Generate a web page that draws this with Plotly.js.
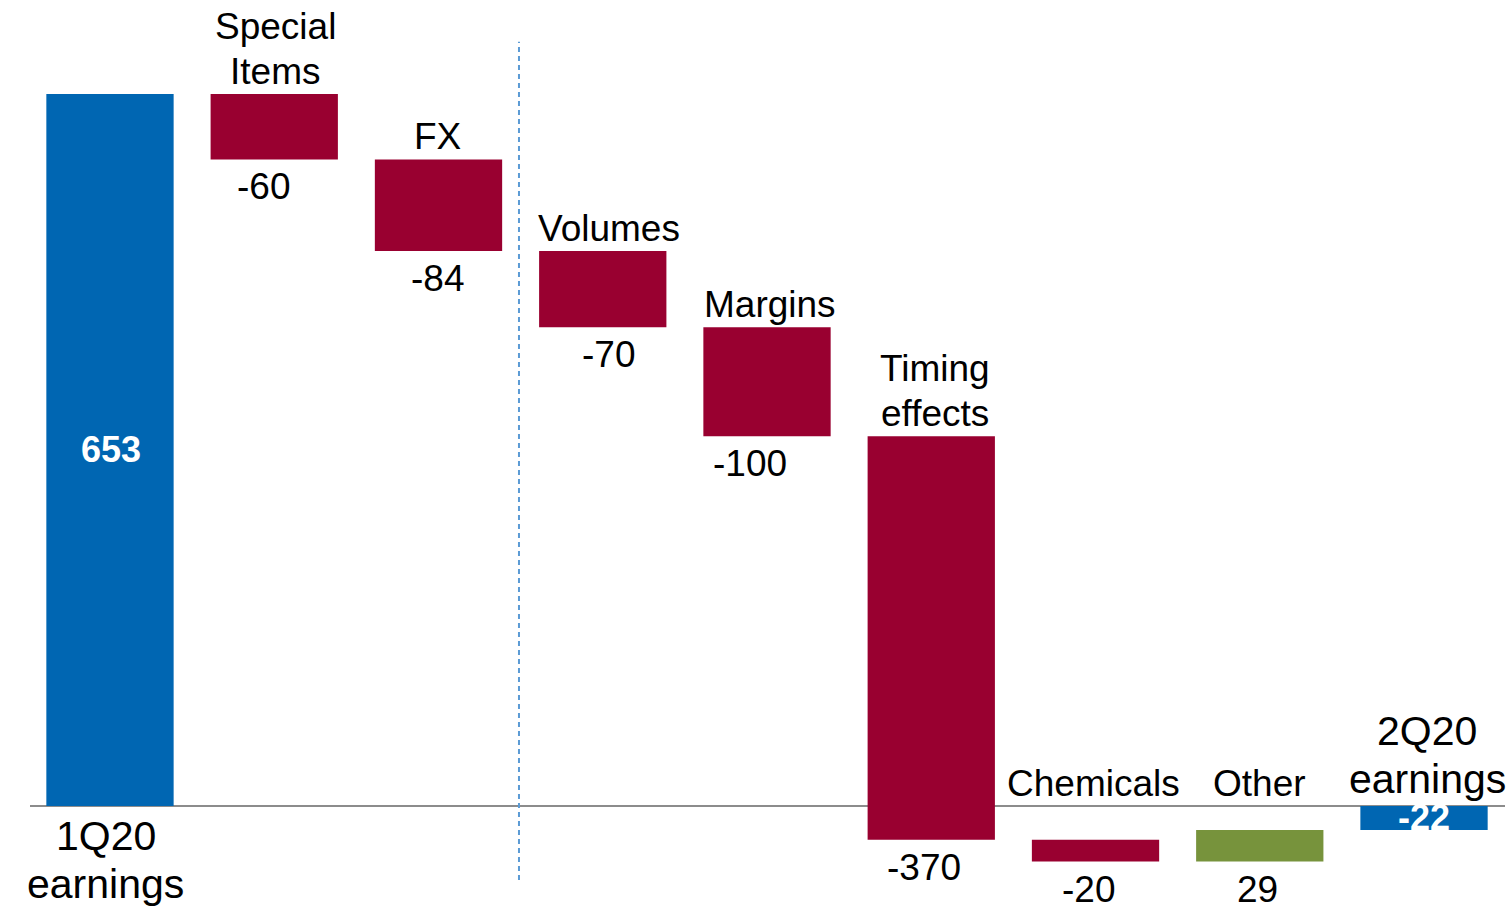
<!DOCTYPE html>
<html>
<head>
<meta charset="utf-8">
<script src="https://cdn.plot.ly/plotly-3.0.1.min.js"></script>
<style>
  html, body { margin: 0; padding: 0; background: #fff; }
  #myPlot { width: 1512px; height: 909px; }
</style>
</head>
<body>
<div id="myPlot"></div>
<script>
const categories = ["1Q20<br>earnings", "Special<br>Items", "FX", "Volumes", "Margins",
  "Timing<br>effects", "Chemicals", "Other", "2Q20<br>earnings"];
const measures = ["absolute", "relative", "relative", "relative", "relative",
  "relative", "relative", "relative", "total"];
const values = [653, -60, -84, -70, -100, -370, -20, 29, 0];
const valueLabels = ["653", "-60", "-84", "-70", "-100", "-370", "-20", "29", "-22"];

const blue = "#0066B2";
const red = "#990030";
const green = "#77933C";
const font = "Liberation Sans, Arial, sans-serif";

// small horizontal nudges of the labels, as in the original slide
const nameShift = [-4, 1, -1, 6, 3, 4, -2, 0, 3];
const valueShift = [1, -11, -1, 6, -17, -7, -7, -2, 0];

// running totals so the labels can sit on the bar edges
const tops = [], bottoms = [];
let run = 0;
values.forEach((v, i) => {
  let start, end;
  if (measures[i] === "absolute") { start = 0; end = v; run = v; }
  else if (measures[i] === "total") { start = 0; end = run; }
  else { start = run; end = run + v; run = end; }
  tops.push(Math.max(start, end));
  bottoms.push(Math.min(start, end));
});

const annotations = [];

// one annotation per line so the line spacing can be tightened
function addLines(c, y, text, anchor, size, gap, shiftY, shiftX) {
  const lines = text.split("<br>");
  lines.forEach((line, k) => {
    const off = anchor === "bottom" ? (lines.length - 1 - k) * gap : -k * gap;
    annotations.push({x: c, y: y, text: line, yanchor: anchor, yshift: shiftY + off,
      xshift: shiftX, showarrow: false, font: {family: font, size: size, color: "#000"}});
  });
}

categories.forEach((c, i) => {
  if (measures[i] === "relative") {
    addLines(c, Math.max(tops[i], 0), c, "bottom", 37, 45, 0, nameShift[i]);
    addLines(c, bottoms[i], valueLabels[i], "top", 37, 45, -5, valueShift[i]);
  } else {
    const positive = tops[i] > 0;
    addLines(c, 0, c, positive ? "top" : "bottom", 41, 48, positive ? -5 : 2, nameShift[i]);
    annotations.push({x: c, y: (tops[i] + bottoms[i]) / 2, text: "<b>" + valueLabels[i] + "</b>",
      xshift: valueShift[i], showarrow: false, font: {family: font, size: 36, color: "#fff"}});
  }
});

const data = [{
  type: "waterfall",
  x: categories,
  y: values,
  measure: measures,
  connector: {visible: false},
  decreasing: {marker: {color: red}},
  increasing: {marker: {color: green}},
  totals: {marker: {color: blue}},
  hoverinfo: "none"
}];

const layout = {
  width: 1512,
  height: 909,
  margin: {l: 30, r: 7, t: 0, b: 0},
  paper_bgcolor: "#fff",
  plot_bgcolor: "#fff",
  showlegend: false,
  waterfallgap: 0.225,
  xaxis: {visible: false, range: [-0.487, 8.493], fixedrange: true},
  yaxis: {range: [-94.5, 739.2], showgrid: false, showticklabels: false, ticks: "",
    zeroline: true, zerolinecolor: "#8c8c8c", zerolinewidth: 2, fixedrange: true},
  shapes: [{type: "line", xref: "x", yref: "y", x0: 2.49, x1: 2.49, y0: -68, y1: 701,
    line: {color: "#5B9BD5", width: 2, dash: "5px,4px"}}],
  annotations: annotations
};

Plotly.newPlot("myPlot", data, layout, {displayModeBar: false, staticPlot: true});
</script>
</body>
</html>
